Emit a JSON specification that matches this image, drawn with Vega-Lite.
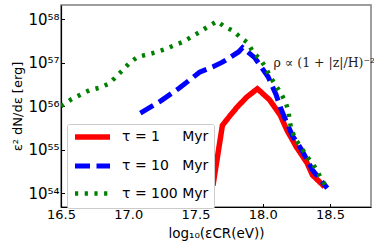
{
  "$schema": "https://vega.github.io/schema/vega-lite/v6.json",
  "width": 310,
  "height": 202,
  "autosize": {"type": "none"},
  "padding": {"left": 61, "top": 5, "right": 3, "bottom": 37},
  "background": "white",
  "config": {
    "font": "DejaVu Sans",
    "view": {"stroke": "#7f7f7f", "strokeWidth": 1.5},
    "axis": {"grid": false, "domainColor": "black", "domainWidth": 1.2, "tickColor": "black", "labelColor": "black", "titleColor": "black", "labelFont": "DejaVu Sans", "titleFont": "DejaVu Sans", "titleFontWeight": "normal"},
    "legend": {
      "orient": "none", "legendX": 6, "legendY": 119, "title": null,
      "symbolType": "M-1,0H6", "symbolSize": 100, "labelFontSize": 14, "labelOffset": 34,
      "rowPadding": 7.5, "padding": 5, "strokeColor": "#cccccc", "fillColor": "white", "cornerRadius": 2,
      "labelFont": "DejaVu Sans", "labelColor": "black"
    }
  },
  "datasets": {
    "curves": [
      {"series": "t1", "logE": 17.63, "E2dNdE": 1.5e54},
      {"series": "t1", "logE": 17.70, "E2dNdE": 3.6e55},
      {"series": "t1", "logE": 17.76, "E2dNdE": 6.2e55},
      {"series": "t1", "logE": 17.81, "E2dNdE": 9.5e55},
      {"series": "t1", "logE": 17.88, "E2dNdE": 1.6e56},
      {"series": "t1", "logE": 17.96, "E2dNdE": 2.5e56},
      {"series": "t1", "logE": 18.05, "E2dNdE": 1.4e56},
      {"series": "t1", "logE": 18.13, "E2dNdE": 6.2e55},
      {"series": "t1", "logE": 18.18, "E2dNdE": 2.8e55},
      {"series": "t1", "logE": 18.25, "E2dNdE": 1.15e55},
      {"series": "t1", "logE": 18.33, "E2dNdE": 4.9e54},
      {"series": "t1", "logE": 18.37, "E2dNdE": 2.6e54},
      {"series": "t1", "logE": 18.46, "E2dNdE": 1.4e54},

      {"series": "t10", "logE": 17.09, "E2dNdE": 6.9e55},
      {"series": "t10", "logE": 17.24, "E2dNdE": 1.3e56},
      {"series": "t10", "logE": 17.38, "E2dNdE": 2.6e56},
      {"series": "t10", "logE": 17.53, "E2dNdE": 6.0e56},
      {"series": "t10", "logE": 17.63, "E2dNdE": 8.0e56},
      {"series": "t10", "logE": 17.70, "E2dNdE": 1.02e57},
      {"series": "t10", "logE": 17.82, "E2dNdE": 1.75e57},
      {"series": "t10", "logE": 17.85, "E2dNdE": 2.2e57},
      {"series": "t10", "logE": 17.94, "E2dNdE": 1.3e57},
      {"series": "t10", "logE": 18.04, "E2dNdE": 4.7e56},
      {"series": "t10", "logE": 18.10, "E2dNdE": 1.8e56},
      {"series": "t10", "logE": 18.13, "E2dNdE": 9.5e55},
      {"series": "t10", "logE": 18.17, "E2dNdE": 4.8e55},
      {"series": "t10", "logE": 18.22, "E2dNdE": 2.1e55},
      {"series": "t10", "logE": 18.29, "E2dNdE": 9.8e54},
      {"series": "t10", "logE": 18.37, "E2dNdE": 3.4e54},
      {"series": "t10", "logE": 18.48, "E2dNdE": 1.3e54},

      {"series": "t100", "logE": 16.50, "E2dNdE": 1.0e56},
      {"series": "t100", "logE": 16.58, "E2dNdE": 1.45e56},
      {"series": "t100", "logE": 16.71, "E2dNdE": 2.3e56},
      {"series": "t100", "logE": 16.78, "E2dNdE": 2.6e56},
      {"series": "t100", "logE": 16.85, "E2dNdE": 3.2e56},
      {"series": "t100", "logE": 16.90, "E2dNdE": 4.4e56},
      {"series": "t100", "logE": 16.95, "E2dNdE": 6.3e56},
      {"series": "t100", "logE": 17.01, "E2dNdE": 9.8e56},
      {"series": "t100", "logE": 17.07, "E2dNdE": 1.35e57},
      {"series": "t100", "logE": 17.13, "E2dNdE": 1.5e57},
      {"series": "t100", "logE": 17.20, "E2dNdE": 1.7e57},
      {"series": "t100", "logE": 17.27, "E2dNdE": 2.0e57},
      {"series": "t100", "logE": 17.33, "E2dNdE": 2.4e57},
      {"series": "t100", "logE": 17.41, "E2dNdE": 3.0e57},
      {"series": "t100", "logE": 17.47, "E2dNdE": 3.9e57},
      {"series": "t100", "logE": 17.53, "E2dNdE": 5.0e57},
      {"series": "t100", "logE": 17.59, "E2dNdE": 6.6e57},
      {"series": "t100", "logE": 17.66, "E2dNdE": 8.9e57},
      {"series": "t100", "logE": 17.71, "E2dNdE": 6.9e57},
      {"series": "t100", "logE": 17.78, "E2dNdE": 5.3e57},
      {"series": "t100", "logE": 17.83, "E2dNdE": 3.9e57},
      {"series": "t100", "logE": 17.89, "E2dNdE": 2.8e57},
      {"series": "t100", "logE": 17.93, "E2dNdE": 1.7e57},
      {"series": "t100", "logE": 17.98, "E2dNdE": 1.2e57},
      {"series": "t100", "logE": 18.02, "E2dNdE": 7.9e56},
      {"series": "t100", "logE": 18.05, "E2dNdE": 5.1e56},
      {"series": "t100", "logE": 18.09, "E2dNdE": 3.2e56},
      {"series": "t100", "logE": 18.13, "E2dNdE": 2.1e56},
      {"series": "t100", "logE": 18.17, "E2dNdE": 1.23e56},
      {"series": "t100", "logE": 18.19, "E2dNdE": 7.8e55},
      {"series": "t100", "logE": 18.21, "E2dNdE": 3.1e55},
      {"series": "t100", "logE": 18.24, "E2dNdE": 1.8e55},
      {"series": "t100", "logE": 18.29, "E2dNdE": 1.07e55},
      {"series": "t100", "logE": 18.33, "E2dNdE": 6.8e54},
      {"series": "t100", "logE": 18.37, "E2dNdE": 4.9e54},
      {"series": "t100", "logE": 18.41, "E2dNdE": 3.0e54},
      {"series": "t100", "logE": 18.44, "E2dNdE": 2.0e54},
      {"series": "t100", "logE": 18.48, "E2dNdE": 1.3e54}
    ],
    "note": [
      {"logE": 18.08, "E2dNdE": 1.0e57, "text": "ρ ∝ (1 + |z|/H)⁻²"}
    ]
  },
  "layer": [
    {
      "data": {"name": "curves"},
      "mark": {"type": "line", "strokeCap": "butt", "strokeJoin": "miter", "clip": true},
      "encoding": {
        "x": {
          "field": "logE", "type": "quantitative",
          "scale": {"domain": [16.5, 18.805], "nice": false, "zero": false},
          "axis": {
            "values": [16.5, 17.0, 17.5, 18.0, 18.5], "format": ".1f",
            "title": "log₁₀(εCR(eV))", "titleFontSize": 13.5, "titleX": 155, "titleY": 26, "titleBaseline": "middle",
            "labelFontSize": 13, "tickSize": -3.5, "labelPadding": 5, "labelFlush": false
          }
        },
        "y": {
          "field": "E2dNdE", "type": "quantitative",
          "scale": {"type": "log", "domain": [4.8e53, 2.1e58], "nice": false, "zero": false},
          "axis": {
            "values": [1e54, 1e55, 1e56, 1e57, 1e58],
            "labelExpr": "'10⁵' + ['⁰','¹','²','³','⁴','⁵','⁶','⁷','⁸','⁹'][round(log(datum.value)/LN10) - 50]",
            "title": "ε² dN/dε [erg]", "titleFontSize": 13, "titleX": -44, "titleY": 101, "titleAlign": "center", "titleBaseline": "middle",
            "labelFontSize": 15, "tickSize": -3.5, "labelPadding": 5.5, "labelFlush": false
          }
        },
        "color": {
          "field": "series", "type": "nominal",
          "scale": {"domain": ["t1", "t10", "t100"], "range": ["#ff0000", "#0000ff", "#008000"]},
          "legend": {
            "labelExpr": "datum.value == 't1' ? 'τ = 1\u00a0\u00a0\u00a0\u00a0\u00a0Myr' : datum.value == 't10' ? 'τ = 10\u00a0\u00a0\u00a0Myr' : 'τ = 100\u00a0Myr'"
          }
        },
        "strokeDash": {
          "field": "series", "type": "nominal",
          "scale": {"domain": ["t1", "t10", "t100"], "range": [[1, 0], [15, 6.5], [3.2, 6.5]]},
          "legend": {
            "labelExpr": "datum.value == 't1' ? 'τ = 1\u00a0\u00a0\u00a0\u00a0\u00a0Myr' : datum.value == 't10' ? 'τ = 10\u00a0\u00a0\u00a0Myr' : 'τ = 100\u00a0Myr'"
          }
        },
        "strokeWidth": {
          "field": "series", "type": "nominal",
          "scale": {"domain": ["t1", "t10", "t100"], "range": [5.5, 4.5, 3.2]},
          "legend": {
            "labelExpr": "datum.value == 't1' ? 'τ = 1\u00a0\u00a0\u00a0\u00a0\u00a0Myr' : datum.value == 't10' ? 'τ = 10\u00a0\u00a0\u00a0Myr' : 'τ = 100\u00a0Myr'"
          }
        },
        "order": {"field": "logE", "type": "quantitative"}
      }
    },
    {
      "data": {"name": "note"},
      "mark": {"type": "text", "align": "left", "baseline": "middle", "font": "DejaVu Serif", "fontSize": 12.5, "color": "#222222"},
      "encoding": {
        "x": {"field": "logE", "type": "quantitative"},
        "y": {"field": "E2dNdE", "type": "quantitative"},
        "text": {"field": "text"}
      }
    }
  ]
}
